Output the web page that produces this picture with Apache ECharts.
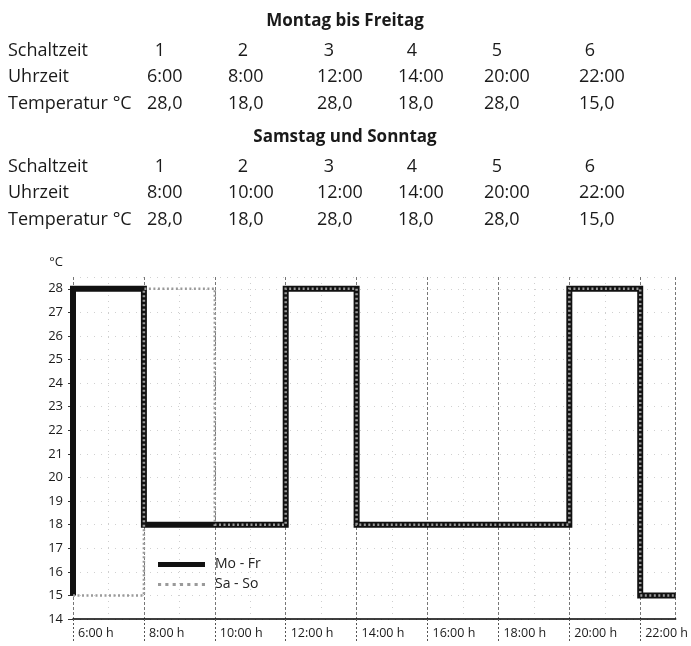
<!DOCTYPE html>
<html>
<head>
<meta charset="utf-8">
<style>
  html, body { margin: 0; padding: 0; background: #fff; }
  #main { width: 691px; height: 646px; }
</style>
<script src="https://cdn.jsdelivr.net/npm/echarts@6/dist/echarts.min.js"></script>
</head>
<body>
<div id="main"></div>
<script>
// Schaltzeiten der Heizung
var schaltzeit = [1, 2, 3, 4, 5, 6];
var moFrZeit = ["6:00", "8:00", "12:00", "14:00", "20:00", "22:00"];
var moFrTemp = [28.0, 18.0, 28.0, 18.0, 28.0, 15.0];
var saSoZeit = ["8:00", "10:00", "12:00", "14:00", "20:00", "22:00"];
var saSoTemp = [28.0, 18.0, 28.0, 18.0, 28.0, 15.0];
var xStart = 6, xEnd = 23; // dargestellter Zeitraum in h

var FONT = "Open Sans";
var colLeft = [147, 228, 317, 398, 484, 579];
var colMid = [160, 243, 329, 412, 497, 590];
// gepunktetes Legendensymbol fuer Sa - So
var dotIcon = "path://M0,0h3v3h-3zM7,0h3v3h-3zM14,0h3v3h-3zM21,0h3v3h-3zM28,0h3v3h-3zM35,0h3v3h-3zM42,0h3v3h-3z";

function hours(t) {
  var p = t.split(":");
  return +p[0] + p[1] / 60;
}

// Stufenkurve: vor der ersten Schaltzeit gilt noch der letzte Wert vom Vortag
function stepData(zeit, temp) {
  var last = temp[temp.length - 1];
  var pts = [[xStart, last]];
  zeit.forEach(function (z, i) {
    pts.push([hours(z), temp[i]]);
  });
  pts.push([xEnd, last]);
  return pts;
}

function txt(x, y, s, opt) {
  opt = opt || {};
  return {
    type: "text",
    x: x,
    y: y,
    silent: true,
    style: {
      text: s,
      fill: "#1a1a1a",
      fontFamily: FONT,
      fontSize: opt.size || 18,
      fontWeight: opt.bold ? "bold" : "normal",
      align: opt.align || "left",
      verticalAlign: "middle"
    }
  };
}

function tableBlock(title, zeit, temp, top) {
  var els = [txt(345, top, title, { bold: true, size: 17, align: "center" })];
  var r1 = top + 30, r2 = top + 56, r3 = top + 83;
  els.push(txt(8, r1, "Schaltzeit"));
  els.push(txt(8, r2, "Uhrzeit"));
  els.push(txt(8, r3, "Temperatur °C"));
  schaltzeit.forEach(function (n, i) {
    els.push(txt(colMid[i], r1, String(n), { align: "center" }));
    els.push(txt(colLeft[i], r2, zeit[i]));
    els.push(txt(colLeft[i], r3, temp[i].toFixed(1).replace(".", ",")));
  });
  return els;
}

var dom = echarts.init(document.getElementById("main"));
var option = {
  animation: false,
  textStyle: { fontFamily: FONT },
  graphic: tableBlock("Montag bis Freitag", moFrZeit, moFrTemp, 21)
    .concat(tableBlock("Samstag und Sonntag", saSoZeit, saSoTemp, 137)),
  grid: { left: 73, right: 14, top: 277, bottom: 27 },
  legend: {
    orient: "vertical",
    left: 153,
    top: 551,
    itemWidth: 47,
    itemHeight: 5,
    itemGap: 3,
    textStyle: { fontSize: 14, color: "#222", padding: [0, 0, 0, 5], lineHeight: 17 },
    data: [
      { name: "Mo - Fr", icon: "rect" },
      { name: "Sa - So", icon: dotIcon }
    ]
  },
  xAxis: {
    type: "value",
    min: xStart,
    max: xEnd,
    interval: 2,
    axisLine: { lineStyle: { color: "#000", width: 1.5 } },
    axisTick: { length: 24, lineStyle: { color: "#555", type: [2, 2] } },
    axisLabel: {
      align: "left",
      margin: 8,
      padding: [0, 0, 0, 5],
      fontSize: 12.5,
      color: "#1a1a1a",
      showMaxLabel: false,
      formatter: function (v) { return v + ":00 h"; }
    },
    splitLine: { show: true, lineStyle: { color: "#777", type: [3, 2] } },
    minorTick: { show: false, splitNumber: 2 },
    minorSplitLine: { show: true, lineStyle: { color: "#cfcfcf", type: [1, 5] } }
  },
  yAxis: {
    type: "value",
    min: 14,
    max: 28.5,
    interval: 1,
    name: "°C",
    nameLocation: "end",
    nameGap: 15,
    nameTextStyle: { fontSize: 13, color: "#1a1a1a", align: "right", verticalAlign: "middle", padding: [0, 10, 0, 0] },
    axisLine: { show: false },
    axisTick: { show: true, length: 5, lineStyle: { color: "#333" } },
    axisLabel: { fontSize: 13, color: "#1a1a1a", margin: 10, showMaxLabel: false },
    splitLine: { show: true, lineStyle: { color: "#d0d0d0", type: [1, 6] } }
  },
  series: [
    {
      name: "Mo - Fr",
      type: "line",
      step: "end",
      data: stepData(moFrZeit, moFrTemp),
      symbol: "none",
      lineStyle: { color: "#111", width: 6, join: "miter" },
      itemStyle: { color: "#111" },
      z: 2
    },
    {
      name: "Sa - So",
      type: "line",
      step: "end",
      data: stepData(saSoZeit, saSoTemp),
      symbol: "none",
      lineStyle: { color: "#9a9a9a", width: 2.5, type: [2, 2.5], join: "miter" },
      itemStyle: { color: "#9a9a9a" },
      z: 3
    }
  ]
};
dom.setOption(option);
</script>
</body>
</html>
